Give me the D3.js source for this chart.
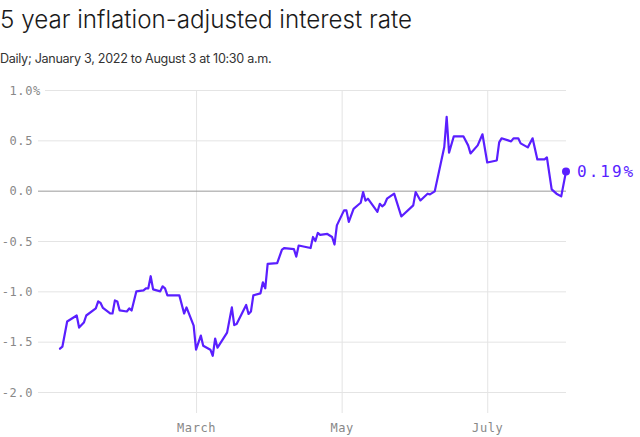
<!DOCTYPE html>
<html>
<head>
<meta charset="utf-8">
<script src="https://cdn.jsdelivr.net/npm/d3@7"></script>
<style>
  html, body { margin: 0; padding: 0; background: #fff; }
  svg { display: block; }
</style>
</head>
<body>
<svg id="chart" width="640" height="437"></svg>
<script>
const dates = ["2022-01-03","2022-01-04","2022-01-06","2022-01-10","2022-01-11","2022-01-13","2022-01-14","2022-01-18","2022-01-19","2022-01-20","2022-01-21","2022-01-24","2022-01-25","2022-01-26","2022-01-27","2022-01-28","2022-01-31","2022-02-01","2022-02-02","2022-02-04","2022-02-07","2022-02-08","2022-02-09","2022-02-10","2022-02-11","2022-02-14","2022-02-15","2022-02-16","2022-02-17","2022-02-22","2022-02-24","2022-02-25","2022-02-28","2022-03-01","2022-03-03","2022-03-04","2022-03-07","2022-03-08","2022-03-09","2022-03-10","2022-03-14","2022-03-16","2022-03-17","2022-03-18","2022-03-22","2022-03-23","2022-03-24","2022-03-25","2022-03-28","2022-03-29","2022-03-30","2022-03-31","2022-04-04","2022-04-06","2022-04-07","2022-04-11","2022-04-12","2022-04-13","2022-04-18","2022-04-19","2022-04-20","2022-04-21","2022-04-22","2022-04-25","2022-04-27","2022-04-28","2022-04-29","2022-05-02","2022-05-03","2022-05-04","2022-05-06","2022-05-08","2022-05-09","2022-05-10","2022-05-11","2022-05-12","2022-05-16","2022-05-17","2022-05-18","2022-05-19","2022-05-20","2022-05-23","2022-05-26","2022-05-31","2022-06-01","2022-06-03","2022-06-06","2022-06-07","2022-06-09","2022-06-13","2022-06-14","2022-06-15","2022-06-17","2022-06-21","2022-06-23","2022-06-24","2022-06-27","2022-06-29","2022-07-01","2022-07-05","2022-07-06","2022-07-07","2022-07-11","2022-07-12","2022-07-14","2022-07-15","2022-07-18","2022-07-20","2022-07-22","2022-07-25","2022-07-26","2022-07-28","2022-07-30","2022-08-01","2022-08-03"];
const rates = [-1.57,-1.55,-1.30,-1.24,-1.36,-1.31,-1.24,-1.17,-1.10,-1.115,-1.165,-1.22,-1.22,-1.09,-1.10,-1.19,-1.20,-1.17,-1.19,-1.00,-0.99,-0.97,-0.97,-0.85,-0.98,-1.00,-0.95,-0.97,-1.04,-1.04,-1.22,-1.16,-1.34,-1.58,-1.44,-1.54,-1.58,-1.64,-1.47,-1.56,-1.41,-1.16,-1.335,-1.325,-1.135,-1.225,-1.20,-1.04,-1.02,-0.91,-0.97,-0.727,-0.72,-0.585,-0.57,-0.58,-0.655,-0.545,-0.57,-0.46,-0.50,-0.42,-0.44,-0.43,-0.46,-0.535,-0.345,-0.196,-0.196,-0.31,-0.18,-0.14,-0.12,-0.014,-0.10,-0.08,-0.21,-0.13,-0.156,-0.136,-0.08,-0.03,-0.256,-0.146,-0.014,-0.097,-0.03,-0.037,-0.007,0.434,0.733,0.378,0.54,0.54,0.45,0.37,0.45,0.56,0.28,0.30,0.48,0.52,0.49,0.52,0.52,0.47,0.43,0.52,0.31,0.31,0.33,0.013,-0.03,-0.057,0.19];
const yTicks = [1.0, 0.5, 0.0, -0.5, -1.0, -1.5, -2.0];
const yTickLabels = ["1.0", "0.5", "0.0", "-0.5", "-1.0", "-1.5", "-2.0"];
const xTicks = ["2022-03-01", "2022-05-01", "2022-07-01"];
const xTickLabels = ["March", "May", "July"];
const titleText = "5 year inflation-adjusted interest rate";
const subtitleText = "Daily; January 3, 2022 to August 3 at 10:30 a.m.";
const lastLabel = "0.19%";

const parse = d3.timeParse("%Y-%m-%d");
const data = dates.map((d, i) => ({ date: parse(d), value: rates[i] }));

const svg = d3.select("#chart");
const purple = "#5a1fff";
const mono = "'DejaVu Sans Mono', monospace";

const x = d3.scaleTime().domain([parse("2022-01-03"), parse("2022-08-03")]).range([60, 566]);
const y = d3.scaleLinear().domain([-2, 1]).range([392, 90]);

svg.append("text").attr("x", 0).attr("y", 28)
  .attr("font-family", "Inter, 'Open Sans', sans-serif").attr("font-weight", 300)
  .attr("font-size", 24.2).attr("fill", "#1a1a1a").text(titleText);
svg.append("text").attr("x", 0).attr("y", 63)
  .attr("font-family", "Inter, 'Open Sans', sans-serif").attr("font-weight", 400)
  .attr("font-size", 12.6).attr("letter-spacing", -0.3).attr("fill", "#333").text(subtitleText);

// vertical grid
const xAxis = d3.axisBottom(x).tickValues(xTicks.map(parse))
  .tickFormat((d, i) => xTickLabels[i]).tickSize(-(413 - 90)).tickPadding(8);
const gx = svg.append("g").attr("transform", "translate(0,413)").call(xAxis);
gx.select(".domain").remove();
gx.selectAll(".tick line").attr("stroke", "#e4e4e4");
gx.selectAll(".tick text").attr("font-family", mono).attr("font-size", 12)
  .attr("letter-spacing", 0.6).attr("fill", "#888").attr("dy", "0.9em");

// horizontal grid
const yAxis = d3.axisLeft(y).tickValues(yTicks).tickFormat((d, i) => yTickLabels[i])
  .tickSize(0).tickPadding(0);
const gy = svg.append("g").attr("transform", "translate(33,0)").call(yAxis);
gy.select(".domain").remove();
gy.selectAll(".tick text").attr("font-family", mono).attr("font-size", 12)
  .attr("letter-spacing", 0.6).attr("fill", "#888").attr("x", 0).attr("dy", "0.35em");
gy.selectAll(".tick").append("line")
  .attr("x1", d => d === 1 ? 12 : 5).attr("x2", 566 - 33)
  .attr("stroke", d => d === 0 ? "#999" : "#e4e4e4").attr("stroke-width", 1);
gy.selectAll(".tick").filter(d => d === 1).append("text")
  .attr("x", 0).attr("dy", "0.35em").attr("text-anchor", "start")
  .attr("font-family", mono).attr("font-size", 12).attr("fill", "#888").text("%");

// line
const line = d3.line().x(d => x(d.date)).y(d => y(d.value));
svg.append("path").datum(data).attr("d", line)
  .attr("fill", "none").attr("stroke", purple).attr("stroke-width", 2.2)
  .attr("stroke-linejoin", "round").attr("stroke-linecap", "round");

const last = data[data.length - 1];
svg.append("circle").attr("cx", x(last.date)).attr("cy", y(last.value)).attr("r", 4)
  .attr("fill", purple);
svg.append("text").attr("x", x(last.date) + 11).attr("y", y(last.value)).attr("dy", "0.35em")
  .attr("font-family", mono).attr("font-size", 16).attr("letter-spacing", 2)
  .attr("fill", purple).text(lastLabel);
</script>
</body>
</html>
